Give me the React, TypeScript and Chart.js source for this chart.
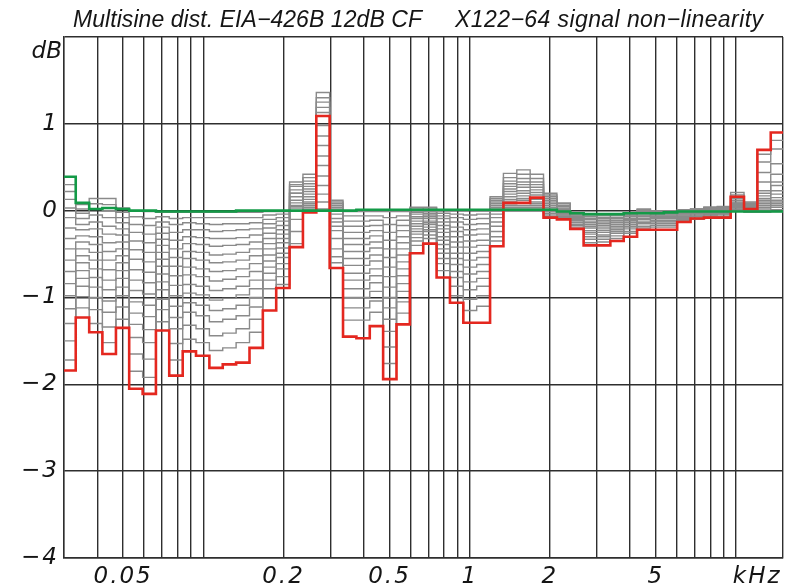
import React, { useEffect, useRef } from 'react';
import { Chart, registerables } from 'chart.js';

Chart.register(...registerables);

// 1/6-octave band edges in kHz (first band starts at the axis minimum, last ends at the axis maximum)
const bandEdges = [
  0.03, 0.0332, 0.0373, 0.0418, 0.047, 0.0527, 0.0592, 0.0664, 0.0745, 0.0837,
  0.0939, 0.1054, 0.1183, 0.1328, 0.1491, 0.1673, 0.1878, 0.2108, 0.2366, 0.2656,
  0.2981, 0.3346, 0.3756, 0.4216, 0.4732, 0.5312, 0.5962, 0.6692, 0.7512, 0.8432,
  0.9465, 1.0624, 1.1925, 1.3385, 1.5024, 1.6864, 1.8929, 2.1248, 2.385, 2.6771,
  3.0049, 3.3729, 3.7859, 4.2496, 4.77, 5.3542, 6.0099, 6.7459, 7.572, 8.4993,
  9.5402, 10.709, 12.02, 13.492, 15,
];

// highest level (red), dB per band
const redValues = [
  -1.84, -1.23, -1.40, -1.65, -1.35, -2.05, -2.11, -1.38, -1.90, -1.62,
  -1.67, -1.81, -1.77, -1.75, -1.58, -1.15, -0.89, -0.42, -0.02, 1.09,
  -0.66, -1.45, -1.47, -1.33, -1.94, -1.31, -0.49, -0.38, -0.77, -1.06,
  -1.29, -1.29, -0.41, 0.09, 0.09, 0.15, -0.08, -0.10, -0.21, -0.40,
  -0.40, -0.35, -0.30, -0.22, -0.22, -0.22, -0.13, -0.09, -0.08, -0.08,
  0.16, 0.02, 0.70, 0.90,
];

// lowest level (green), dB per band
const greenValues = [
  0.39, 0.09, 0.02, 0.03, 0.02, 0.00, 0.00, -0.01, -0.01, -0.01,
  -0.01, -0.01, -0.01, 0.00, 0.00, 0.00, 0.00, 0.00, 0.00, 0.00,
  0.00, 0.00, 0.01, 0.01, 0.01, 0.01, 0.01, 0.01, 0.01, 0.01,
  0.01, 0.01, 0.01, 0.01, 0.01, 0.01, 0.01, -0.01, -0.03, -0.04,
  -0.04, -0.04, -0.03, -0.03, -0.03, -0.02, -0.01, -0.01, -0.01, -0.01,
  -0.01, -0.01, -0.01, -0.01,
];

// intermediate levels (gray): one row per band, 16 levels per row
const grayBands = [
  [0.30, 0.22, 0.13, 0.03, -0.08, -0.20, -0.32, -0.44, -0.57, -0.70, -0.84, -0.98, -1.13, -1.30, -1.50, -1.72],
  [0.07, 0.02, -0.03, -0.09, -0.16, -0.22, -0.29, -0.36, -0.44, -0.52, -0.60, -0.69, -0.78, -0.87, -0.99, -1.12],
  [0.14, 0.08, 0.02, -0.05, -0.13, -0.21, -0.30, -0.39, -0.48, -0.57, -0.67, -0.77, -0.88, -1.00, -1.14, -1.30],
  [0.14, 0.07, 0.00, -0.08, -0.18, -0.27, -0.37, -0.47, -0.57, -0.68, -0.80, -0.91, -1.04, -1.17, -1.34, -1.52],
  [0.03, -0.02, -0.08, -0.14, -0.21, -0.28, -0.36, -0.44, -0.52, -0.60, -0.69, -0.78, -0.88, -0.98, -1.11, -1.25],
  [0.00, -0.07, -0.16, -0.25, -0.35, -0.45, -0.56, -0.68, -0.80, -0.92, -1.05, -1.18, -1.31, -1.46, -1.65, -1.85],
  [-0.01, -0.09, -0.17, -0.27, -0.37, -0.48, -0.59, -0.71, -0.83, -0.96, -1.09, -1.22, -1.37, -1.52, -1.71, -1.92],
  [-0.02, -0.07, -0.13, -0.19, -0.26, -0.33, -0.40, -0.48, -0.56, -0.64, -0.73, -0.82, -0.91, -1.02, -1.14, -1.28],
  [-0.02, -0.09, -0.16, -0.25, -0.34, -0.44, -0.54, -0.64, -0.75, -0.86, -0.98, -1.10, -1.23, -1.36, -1.53, -1.72],
  [-0.02, -0.08, -0.14, -0.22, -0.30, -0.38, -0.47, -0.55, -0.65, -0.74, -0.85, -0.95, -1.06, -1.17, -1.32, -1.48],
  [-0.02, -0.08, -0.15, -0.22, -0.31, -0.39, -0.48, -0.57, -0.67, -0.76, -0.87, -0.97, -1.09, -1.21, -1.36, -1.52],
  [-0.02, -0.08, -0.16, -0.24, -0.32, -0.41, -0.51, -0.60, -0.70, -0.81, -0.92, -1.03, -1.15, -1.28, -1.44, -1.61],
  [-0.02, -0.08, -0.15, -0.23, -0.32, -0.40, -0.50, -0.59, -0.69, -0.79, -0.90, -1.01, -1.13, -1.25, -1.41, -1.58],
  [-0.02, -0.08, -0.15, -0.22, -0.31, -0.39, -0.48, -0.57, -0.67, -0.76, -0.87, -0.97, -1.09, -1.21, -1.36, -1.52],
  [-0.02, -0.08, -0.14, -0.21, -0.28, -0.36, -0.44, -0.52, -0.61, -0.70, -0.80, -0.90, -1.00, -1.11, -1.25, -1.40],
  [-0.01, -0.05, -0.10, -0.15, -0.20, -0.26, -0.32, -0.38, -0.44, -0.51, -0.58, -0.65, -0.72, -0.80, -0.90, -1.01],
  [-0.01, -0.04, -0.08, -0.12, -0.17, -0.22, -0.27, -0.32, -0.37, -0.43, -0.49, -0.54, -0.61, -0.67, -0.76, -0.85],
  [0.00, 0.03, 0.06, 0.09, 0.12, 0.16, 0.20, 0.24, 0.28, 0.33, 0.30, 0.20, 0.05, -0.10, -0.24, -0.38],
  [0.00, 0.02, 0.04, 0.06, 0.08, 0.10, 0.13, 0.16, 0.19, 0.22, 0.25, 0.28, 0.31, 0.34, 0.38, 0.42],
  [0.00, 0.02, 0.10, 0.19, 0.29, 0.40, 0.52, 0.63, 0.75, 0.86, 0.98, 1.13, 1.19, 1.25, 1.30, 1.36],
  [0.00, 0.02, 0.04, 0.06, 0.08, 0.10, 0.12, -0.04, -0.09, -0.13, -0.18, -0.23, -0.32, -0.44, -0.53, -0.60],
  [-0.01, -0.06, -0.12, -0.18, -0.25, -0.32, -0.39, -0.47, -0.55, -0.63, -0.72, -0.80, -0.90, -1.00, -1.12, -1.26],
  [-0.01, -0.06, -0.12, -0.18, -0.25, -0.32, -0.39, -0.47, -0.55, -0.63, -0.72, -0.80, -0.90, -1.00, -1.12, -1.26],
  [-0.01, -0.06, -0.11, -0.17, -0.23, -0.29, -0.36, -0.43, -0.51, -0.58, -0.67, -0.75, -0.83, -0.93, -1.04, -1.17],
  [-0.01, -0.08, -0.16, -0.25, -0.34, -0.44, -0.54, -0.65, -0.76, -0.88, -1.00, -1.12, -1.25, -1.39, -1.57, -1.76],
  [-0.01, -0.06, -0.11, -0.17, -0.23, -0.30, -0.37, -0.44, -0.51, -0.59, -0.67, -0.75, -0.84, -0.93, -1.05, -1.18],
  [0.04, 0.02, 0.00, -0.02, -0.04, -0.07, -0.09, -0.12, -0.15, -0.18, -0.21, -0.24, -0.27, -0.31, -0.35, -0.40],
  [0.04, 0.03, 0.01, -0.01, -0.03, -0.05, -0.07, -0.09, -0.12, -0.14, -0.16, -0.19, -0.22, -0.24, -0.28, -0.32],
  [0.00, -0.03, -0.06, -0.09, -0.13, -0.17, -0.21, -0.25, -0.30, -0.34, -0.39, -0.44, -0.49, -0.55, -0.61, -0.69],
  [0.00, -0.04, -0.08, -0.13, -0.19, -0.24, -0.30, -0.36, -0.42, -0.49, -0.55, -0.62, -0.70, -0.77, -0.87, -0.98],
  [0.00, -0.05, -0.10, -0.16, -0.22, -0.28, -0.35, -0.42, -0.49, -0.57, -0.65, -0.73, -0.82, -0.91, -1.02, -1.15],
  [0.00, -0.04, -0.09, -0.15, -0.21, -0.27, -0.34, -0.40, -0.47, -0.54, -0.62, -0.70, -0.78, -0.87, -0.98, -1.10],
  [0.00, 0.02, 0.04, 0.06, 0.08, 0.10, 0.12, 0.14, 0.16, -0.04, -0.08, -0.13, -0.18, -0.24, -0.30, -0.35],
  [0.00, 0.02, 0.04, 0.06, 0.08, 0.11, 0.13, 0.16, 0.19, 0.22, 0.25, 0.28, 0.31, 0.34, 0.38, 0.43],
  [0.00, 0.02, 0.04, 0.06, 0.09, 0.12, 0.14, 0.17, 0.20, 0.23, 0.27, 0.30, 0.33, 0.37, 0.42, 0.47],
  [0.00, 0.02, 0.04, 0.06, 0.08, 0.10, 0.13, 0.15, 0.18, 0.21, 0.24, 0.27, 0.30, 0.33, 0.37, 0.42],
  [0.00, 0.01, 0.03, 0.04, 0.06, 0.08, 0.10, 0.12, 0.14, 0.16, 0.18, 0.20, -0.01, -0.03, -0.05, -0.07],
  [0.00, 0.01, 0.02, 0.03, 0.05, 0.06, 0.08, 0.09, -0.01, -0.02, -0.03, -0.04, -0.05, -0.06, -0.07, -0.08],
  [-0.02, -0.03, -0.04, -0.05, -0.06, -0.07, -0.08, -0.09, -0.10, -0.11, -0.13, -0.14, -0.16, -0.17, -0.19, -0.21],
  [-0.04, -0.05, -0.07, -0.09, -0.10, -0.12, -0.14, -0.16, -0.18, -0.20, -0.23, -0.25, -0.27, -0.30, -0.33, -0.37],
  [-0.05, -0.06, -0.08, -0.09, -0.11, -0.13, -0.15, -0.17, -0.19, -0.21, -0.23, -0.25, -0.28, -0.30, -0.33, -0.36],
  [-0.04, -0.05, -0.06, -0.08, -0.09, -0.11, -0.13, -0.14, -0.16, -0.18, -0.20, -0.22, -0.24, -0.26, -0.29, -0.32],
  [-0.03, -0.04, -0.05, -0.06, -0.07, -0.09, -0.10, -0.11, -0.13, -0.14, -0.16, -0.18, -0.19, -0.21, -0.24, -0.26],
  [0.02, 0.01, 0.00, -0.01, -0.02, -0.03, -0.05, -0.06, -0.07, -0.09, -0.10, -0.12, -0.14, -0.15, -0.18, -0.20],
  [0.00, -0.01, -0.02, -0.03, -0.04, -0.05, -0.06, -0.07, -0.08, -0.09, -0.11, -0.12, -0.13, -0.15, -0.17, -0.19],
  [0.00, -0.01, -0.02, -0.03, -0.04, -0.05, -0.06, -0.07, -0.08, -0.09, -0.11, -0.12, -0.13, -0.15, -0.17, -0.19],
  [0.01, 0.00, 0.00, -0.01, -0.02, -0.02, -0.03, -0.04, -0.05, -0.06, -0.07, -0.08, -0.09, -0.10, -0.11, -0.13],
  [0.02, 0.02, 0.01, 0.00, 0.00, -0.01, -0.02, -0.02, -0.03, -0.04, -0.05, -0.06, -0.07, -0.07, -0.09, -0.10],
  [0.04, 0.04, 0.03, 0.02, 0.02, 0.01, 0.00, 0.00, -0.01, -0.02, -0.03, -0.04, -0.05, -0.05, -0.07, -0.08],
  [0.05, 0.04, 0.04, 0.03, 0.03, 0.02, 0.01, 0.00, -0.01, -0.01, -0.02, -0.03, -0.04, -0.05, -0.07, -0.08],
  [0.00, 0.01, 0.02, 0.03, 0.04, 0.05, 0.06, 0.07, 0.08, 0.09, 0.10, 0.12, 0.14, 0.16, 0.18, 0.21],
  [-0.02, -0.01, -0.01, 0.00, 0.00, 0.01, 0.02, 0.02, 0.03, 0.04, 0.05, 0.06, 0.07, 0.08, 0.09, 0.10],
  [-0.02, 0.00, 0.02, 0.04, 0.06, 0.08, 0.10, 0.12, 0.14, 0.17, 0.20, 0.23, 0.33, 0.44, 0.56, 0.65],
  [-0.01, 0.01, 0.04, 0.06, 0.08, 0.10, 0.12, 0.15, 0.19, 0.23, 0.29, 0.33, 0.42, 0.54, 0.71, 0.81],
];

// axis ticks
const xGridValues = [
  0.03, 0.04, 0.05, 0.06, 0.07, 0.08, 0.09, 0.1, 0.2, 0.3, 0.4, 0.5, 0.6, 0.7, 0.8, 0.9,
  1, 2, 3, 4, 5, 6, 7, 8, 9, 10, 15,
];
const xLabelValues = [0.05, 0.2, 0.5, 1, 2, 5, 12];
const xLabelTexts = ['0.05', '0.2', '0.5', '1', '2', '5', 'kHz'];
const yTickValues = [-4, -3, -2, -1, 0, 1, 2];
const yUnitLabel = 'dB';
const titleLeft = 'Multisine dist. EIA\u2212426B 12dB CF';
const titleRight = 'X122\u221264 signal non\u2212linearity';

const TITLE_FONT = '"Liberation Sans", Arial, sans-serif';
const TICK_FONT = '"DejaVu Sans", "Liberation Sans", sans-serif';
const GRID_COLOR = '#2e2e2e';

function toSteps(values: number[]) {
  const pts = values.map((v, i) => ({ x: bandEdges[i], y: v }));
  pts.push({ x: bandEdges[values.length], y: values[values.length - 1] });
  return pts;
}

function drawFitted(ctx: CanvasRenderingContext2D, text: string, x0: number, x1: number, y: number) {
  (ctx as any).letterSpacing = '0px';
  const w = ctx.measureText(text).width;
  const n = Array.from(text).length;
  const ls = (x1 - x0 - w) / Math.max(1, n - 1);
  (ctx as any).letterSpacing = ls.toFixed(2) + 'px';
  ctx.fillText(text, x0, y);
  (ctx as any).letterSpacing = '0px';
}

const textPlugin = {
  id: 'customText',
  beforeDraw(chart: any) {
    chart.ctx.letterSpacing = '2px';
  },
  afterDraw(chart: any) {
    const ctx: CanvasRenderingContext2D = chart.ctx;
    ctx.save();
    ctx.fillStyle = '#151515';
    ctx.font = 'italic 23px ' + TITLE_FONT;
    ctx.textBaseline = 'alphabetic';
    ctx.textAlign = 'left';
    drawFitted(ctx, titleLeft, 73, 422, 27);
    drawFitted(ctx, titleRight, 455, 763, 27);
    ctx.font = 'italic 23px ' + TICK_FONT;
    ctx.textAlign = 'right';
    (ctx as any).letterSpacing = '0px';
    ctx.fillText(yUnitLabel, 62, 58);
    ctx.restore();
    (ctx as any).letterSpacing = '0px';
  },
};

export default function App() {
  const ref = useRef<HTMLCanvasElement | null>(null);

  useEffect(() => {
    document.body.style.margin = '0';
    const canvas = ref.current;
    if (!canvas) return;

    const nLevels = grayBands[0].length;
    const grayDatasets = [] as any[];
    for (let k = 0; k < nLevels; k++) {
      grayDatasets.push({
        data: toSteps(grayBands.map((row) => row[k])),
        borderColor: '#8a8a8a',
        borderWidth: 1.4,
        pointRadius: 0,
        fill: false,
        stepped: 'before',
        order: 3,
      });
    }

    const allXTicks = [...xGridValues, ...xLabelValues]
      .filter((v, i, a) => a.indexOf(v) === i)
      .sort((a, b) => a - b);

    const tickFont = { family: TICK_FONT, size: 23, style: 'italic' as const };

    const chart = new Chart(canvas, {
      type: 'line',
      data: {
        datasets: [
          ...grayDatasets,
          {
            data: toSteps(redValues),
            borderColor: '#e4271f',
            borderWidth: 2.6,
            pointRadius: 0,
            fill: false,
            stepped: 'before',
            order: 2,
          },
          {
            data: toSteps(greenValues),
            borderColor: '#139a47',
            borderWidth: 2.6,
            pointRadius: 0,
            fill: false,
            stepped: 'before',
            order: 1,
          },
        ],
      },
      options: {
        animation: false,
        responsive: true,
        maintainAspectRatio: false,
        events: [],
        layout: { padding: { top: 37, right: 12, bottom: 0, left: 0 } },
        plugins: {
          legend: { display: false },
          tooltip: { enabled: false },
          title: { display: false },
        },
        scales: {
          x: {
            type: 'logarithmic',
            min: bandEdges[0],
            max: bandEdges[bandEdges.length - 1],
            afterBuildTicks: (scale: any) => {
              scale.ticks = allXTicks.map((v) => ({ value: v }));
            },
            afterFit: (scale: any) => {
              scale.height = 29;
            },
            ticks: {
              autoSkip: false,
              maxRotation: 0,
              minRotation: 0,
              padding: 5,
              color: '#151515',
              font: tickFont,
              callback: (value: any) => {
                const idx = xLabelValues.indexOf(Number(value));
                return idx >= 0 ? xLabelTexts[idx] : '';
              },
            },
            grid: {
              drawTicks: false,
              lineWidth: 1.4,
              color: (ctx: any) =>
                ctx.tick && xGridValues.indexOf(ctx.tick.value) < 0 ? 'rgba(0,0,0,0)' : GRID_COLOR,
            },
            border: { color: GRID_COLOR, width: 1.4 },
          },
          y: {
            type: 'linear',
            min: yTickValues[0],
            max: yTickValues[yTickValues.length - 1],
            afterBuildTicks: (scale: any) => {
              scale.ticks = yTickValues.map((v) => ({ value: v }));
            },
            afterFit: (scale: any) => {
              scale.width = 64;
            },
            ticks: {
              padding: 5,
              color: '#151515',
              font: tickFont,
              callback: (value: any) => {
                const v = Number(value);
                if (v === yTickValues[yTickValues.length - 1]) return '';
                return v < 0 ? '\u2212' + Math.abs(v) : String(v);
              },
            },
            grid: { drawTicks: false, lineWidth: 1.4, color: GRID_COLOR },
            border: { color: GRID_COLOR, width: 1.4 },
          },
        },
      },
      plugins: [textPlugin],
    } as any);

    return () => chart.destroy();
  }, []);

  return (
    <div style={{ position: 'fixed', left: 0, top: 0, width: 795, height: 587, background: '#ffffff' }}>
      <canvas ref={ref} />
    </div>
  );
}
